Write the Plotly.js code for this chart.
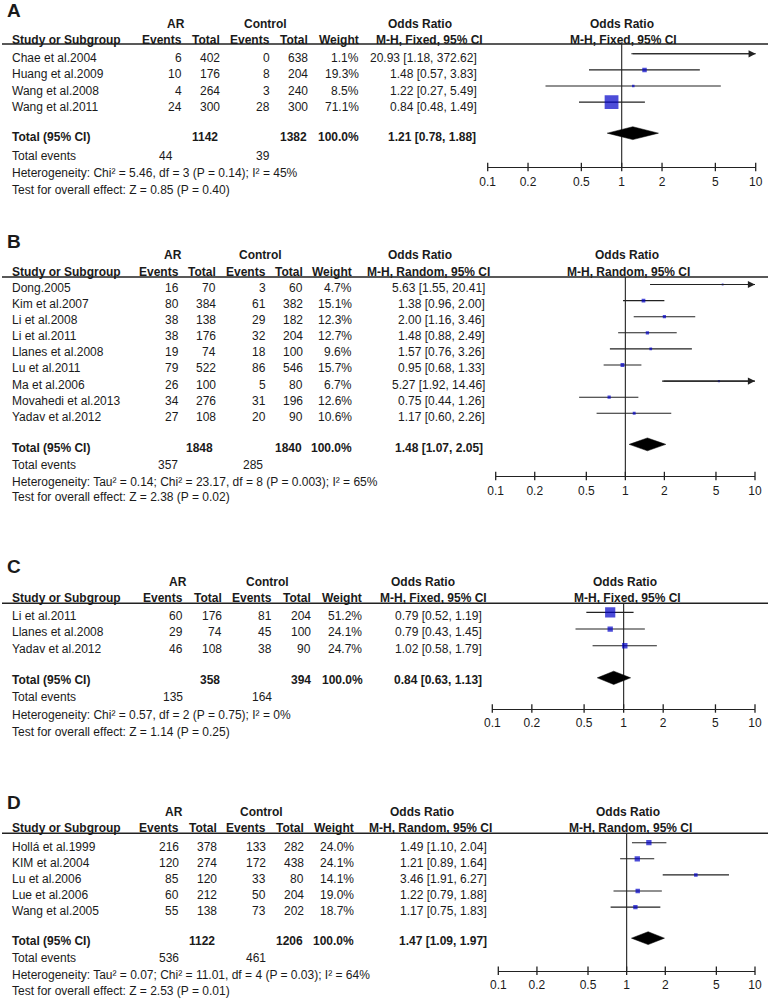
<!DOCTYPE html>
<html><head><meta charset="utf-8">
<script src="https://cdn.plot.ly/plotly-3.0.1.min.js"></script>
<style>html,body{margin:0;padding:0;background:#fff}</style>
</head><body><div id="chart" style="width:768px;height:999px"></div>
<script>
// ---------------- DATA ----------------
const tickVals = [0.1, 0.2, 0.5, 1, 2, 5, 10];
const tickText = ["0.1", "0.2", "0.5", "1", "2", "5", "10"];

// Panel A
const studiesA = ["Chae et al.2004", "Huang et al.2009", "Wang et al.2008", "Wang et al.2011"];
const arEventsA = [6, 10, 4, 24];
const arTotalA = [402, 176, 264, 300];
const ctrlEventsA = [0, 8, 3, 28];
const ctrlTotalA = [638, 204, 240, 300];
const weightA = [1.1, 19.3, 8.5, 71.1];
const orA = [20.93, 1.48, 1.22, 0.84];
const loA = [1.18, 0.57, 0.27, 0.48];
const hiA = [372.62, 3.83, 5.49, 1.49];
const totalsA = [1142, 1382];
const totalOrA = [1.21, 0.78, 1.88];
const totalEventsA = [44, 39];
const methodA = "M-H, Fixed, 95% CI";
const hetA = "Heterogeneity: Chi² = 5.46, df = 3 (P = 0.14); I² = 45%";
const testA = "Test for overall effect: Z = 0.85 (P = 0.40)";

// Panel B
const studiesB = ["Dong.2005", "Kim et al.2007", "Li et al.2008", "Li et al.2011", "Llanes et al.2008", "Lu et al.2011", "Ma et al.2006", "Movahedi et al.2013", "Yadav et al.2012"];
const arEventsB = [16, 80, 38, 38, 19, 79, 26, 34, 27];
const arTotalB = [70, 384, 138, 176, 74, 522, 100, 276, 108];
const ctrlEventsB = [3, 61, 29, 32, 18, 86, 5, 31, 20];
const ctrlTotalB = [60, 382, 182, 204, 100, 546, 80, 196, 90];
const weightB = [4.7, 15.1, 12.3, 12.7, 9.6, 15.7, 6.7, 12.6, 10.6];
const orB = [5.63, 1.38, 2.00, 1.48, 1.57, 0.95, 5.27, 0.75, 1.17];
const loB = [1.55, 0.96, 1.16, 0.88, 0.76, 0.68, 1.92, 0.44, 0.60];
const hiB = [20.41, 2.00, 3.46, 2.49, 3.26, 1.33, 14.46, 1.26, 2.26];
const totalsB = [1848, 1840];
const totalOrB = [1.48, 1.07, 2.05];
const totalEventsB = [357, 285];
const methodB = "M-H, Random, 95% CI";
const hetB = "Heterogeneity: Tau² = 0.14; Chi² = 23.17, df = 8 (P = 0.003); I² = 65%";
const testB = "Test for overall effect: Z = 2.38 (P = 0.02)";

// Panel C
const studiesC = ["Li et al.2011", "Llanes et al.2008", "Yadav et al.2012"];
const arEventsC = [60, 29, 46];
const arTotalC = [176, 74, 108];
const ctrlEventsC = [81, 45, 38];
const ctrlTotalC = [204, 100, 90];
const weightC = [51.2, 24.1, 24.7];
const orC = [0.79, 0.79, 1.02];
const loC = [0.52, 0.43, 0.58];
const hiC = [1.19, 1.45, 1.79];
const totalsC = [358, 394];
const totalOrC = [0.84, 0.63, 1.13];
const totalEventsC = [135, 164];
const methodC = "M-H, Fixed, 95% CI";
const hetC = "Heterogeneity: Chi² = 0.57, df = 2 (P = 0.75); I² = 0%";
const testC = "Test for overall effect: Z = 1.14 (P = 0.25)";

// Panel D
const studiesD = ["Hollá et al.1999", "KIM et al.2004", "Lu et al.2006", "Lue et al.2006", "Wang et al.2005"];
const arEventsD = [216, 120, 85, 60, 55];
const arTotalD = [378, 274, 120, 212, 138];
const ctrlEventsD = [133, 172, 33, 50, 73];
const ctrlTotalD = [282, 438, 80, 204, 202];
const weightD = [24.0, 24.1, 14.1, 19.0, 18.7];
const orD = [1.49, 1.21, 3.46, 1.22, 1.17];
const loD = [1.10, 0.89, 1.91, 0.79, 0.75];
const hiD = [2.04, 1.64, 6.27, 1.88, 1.83];
const totalsD = [1122, 1206];
const totalOrD = [1.47, 1.09, 1.97];
const totalEventsD = [536, 461];
const methodD = "M-H, Random, 95% CI";
const hetD = "Heterogeneity: Tau² = 0.07; Chi² = 11.01, df = 4 (P = 0.03); I² = 64%";
const testD = "Test for overall effect: Z = 2.53 (P = 0.01)";

// ---------------- LAYOUT GEOMETRY (pixels) ----------------
const W = 768, H = 999;
const FONT = "Liberation Sans, Arial, Helvetica, sans-serif";
const TXT = "#1a1a1a";
const LINE = "#222222";
const BLUE = "#0000c8";

const geoA = {letterY: 11, h1: 24, h2: 40, line: 44, textFirst: 58.3, step: 16.1, markOff: -4.5,
  totText: 136.7, totEvY: 155.7, hetY: 172.7, testY: 190,
  c: {name: 12, arEv: 181.5, arTot: 220, ctEv: 270.3, ctTot: 308.3, wt: 359.3, orTxt: 477.3},
  t: {arTot: 218.3, ctTot: 306.7, wt: 358.5, orTxt: 476, evAR: 173.3, evCt: 270},
  hd: {ar: 176, ct: 265, or1: 419.5, mhRight: 482.7, p1: 622, p2: 623.5},
  p: {x0: 487.7, x1: 755.7, axis: 167}};
const geoB = {letterY: 242, h1: 255, h2: 272, line: 277, textFirst: 288, step: 16.1, markOff: -3.5,
  totText: 448, totEvY: 465, hetY: 482, testY: 497,
  c: {name: 12, arEv: 178.5, arTot: 216, ctEv: 265.5, ctTot: 303, wt: 352, orTxt: 485},
  t: {arTot: 213, ctTot: 302, wt: 352, orTxt: 483, evAR: 178, evCt: 263},
  hd: {ar: 173, ct: 260, or1: 420, mhRight: 490, p1: 627, p2: 628},
  p: {x0: 495.7, x1: 755, axis: 476}};
const geoC = {letterY: 566, h1: 581.7, h2: 597.7, line: 603.3, textFirst: 615.7, step: 16.65, markOff: -3.3,
  totText: 680, totEvY: 697, hetY: 715, testY: 731.7,
  c: {name: 12, arEv: 183, arTot: 221.7, ctEv: 272, ctTot: 311, wt: 362, orTxt: 482.3},
  t: {arTot: 220, ctTot: 310.7, wt: 362.7, orTxt: 481.5, evAR: 182.7, evCt: 271.7},
  hd: {ar: 177.5, ct: 267.5, or1: 423, mhRight: 487, p1: 625, p2: 627.5},
  p: {x0: 492.3, x1: 755, axis: 708.5}};
const geoD = {letterY: 802, h1: 812.3, h2: 828.3, line: 833.3, textFirst: 846.7, step: 16.1, markOff: -4,
  totText: 940.7, totEvY: 958.3, hetY: 975, testY: 990.7,
  c: {name: 12, arEv: 179.3, arTot: 217, ctEv: 266.3, ctTot: 304.2, wt: 354, orTxt: 487.3},
  t: {arTot: 215, ctTot: 303.3, wt: 354, orTxt: 486.7, evAR: 179, evCt: 265.7},
  hd: {ar: 174, ct: 261.3, or1: 422, mhRight: 491.7, p1: 628.3, p2: 630},
  p: {x0: 498.3, x1: 755, axis: 970.7}};

const panels = [
  {letter: "A", studies: studiesA, arEv: arEventsA, arTot: arTotalA, ctEv: ctrlEventsA, ctTot: ctrlTotalA, wt: weightA, or: orA, lo: loA, hi: hiA, totals: totalsA, totOR: totalOrA, totEv: totalEventsA, method: methodA, het: hetA, test: testA, g: geoA},
  {letter: "B", studies: studiesB, arEv: arEventsB, arTot: arTotalB, ctEv: ctrlEventsB, ctTot: ctrlTotalB, wt: weightB, or: orB, lo: loB, hi: hiB, totals: totalsB, totOR: totalOrB, totEv: totalEventsB, method: methodB, het: hetB, test: testB, g: geoB},
  {letter: "C", studies: studiesC, arEv: arEventsC, arTot: arTotalC, ctEv: ctrlEventsC, ctTot: ctrlTotalC, wt: weightC, or: orC, lo: loC, hi: hiC, totals: totalsC, totOR: totalOrC, totEv: totalEventsC, method: methodC, het: hetC, test: testC, g: geoC},
  {letter: "D", studies: studiesD, arEv: arEventsD, arTot: arTotalD, ctEv: ctrlEventsD, ctTot: ctrlTotalD, wt: weightD, or: orD, lo: loD, hi: hiD, totals: totalsD, totOR: totalOrD, totEv: totalEventsD, method: methodD, het: hetD, test: testD, g: geoD}
];

const traces = [];
const annotations = [];
const shapes = [];
const layout = {
  width: W, height: H, margin: {l: 0, r: 0, t: 0, b: 0},
  paper_bgcolor: "#fff", plot_bgcolor: "rgba(0,0,0,0)",
  showlegend: false, font: {family: FONT, size: 12, color: TXT},
  annotations: annotations, shapes: shapes
};

function px2x(x) { return x / W; }
function px2y(y) { return 1 - y / H; }
function ann(x, y, text, xanchor, opts) {
  opts = opts || {};
  annotations.push({
    xref: "paper", yref: "paper", x: px2x(x), y: px2y(y), text: text,
    xanchor: xanchor, yanchor: "middle", showarrow: false,
    borderpad: 0, borderwidth: 0,
    font: {family: FONT, size: opts.size || 12, color: TXT}
  });
}
const f2 = v => v.toFixed(2);
const orStr = (o, l, h) => f2(o) + " [" + f2(l) + ", " + f2(h) + "]";

panels.forEach((P, k) => {
  const g = P.g;
  const sfx = k === 0 ? "" : String(k + 1);
  const xa = "x" + sfx, ya = "y" + sfx;
  const n = P.studies.length;
  const markFirst = g.textFirst + g.markOff;
  const r0 = (g.p.axis - markFirst) / g.step;
  const r1 = (g.line - markFirst) / g.step;

  layout["xaxis" + sfx] = {
    type: "log", range: [-1, 1], domain: [px2x(g.p.x0), px2x(g.p.x1)], anchor: ya,
    showline: true, linecolor: LINE, linewidth: 1.2, mirror: false,
    ticks: "", tickmode: "array", tickvals: tickVals, ticktext: tickText,
    showgrid: false, zeroline: false, ticklabelstandoff: 3,
    tickfont: {family: FONT, size: 12, color: TXT}, fixedrange: true
  };
  layout["yaxis" + sfx] = {
    domain: [px2y(g.p.axis), px2y(g.line)], range: [r0, r1], visible: false,
    anchor: xa, fixedrange: true, showgrid: false, zeroline: false
  };

  const idx = P.studies.map((_, i) => i);

  // line of no effect
  traces.push({type: "scatter", mode: "lines", x: [1, 1], y: [r0, r1], xaxis: xa, yaxis: ya,
    line: {color: LINE, width: 1.1}, hoverinfo: "skip", cliponaxis: false});

  // tick marks crossing the axis line
  traces.push({type: "scatter", mode: "markers", x: tickVals, y: tickVals.map(() => r0),
    xaxis: xa, yaxis: ya, cliponaxis: false, hoverinfo: "skip",
    marker: {symbol: "line-ns", size: 6, color: LINE, line: {color: LINE, width: 1.3}}});

  // confidence interval lines
  const cx = [], cy = [];
  idx.forEach(i => { cx.push(P.lo[i], P.hi[i], null); cy.push(i, i, null); });
  traces.push({type: "scatter", mode: "lines", x: cx, y: cy, xaxis: xa, yaxis: ya,
    line: {color: LINE, width: 1.1}, hoverinfo: "skip"});

  // arrows for intervals beyond the axis
  idx.forEach(i => {
    if (P.hi[i] > 10) {
      annotations.push({xref: xa, yref: ya, axref: xa, ayref: ya,
        x: 1, y: i, ax: Math.log10(P.lo[i]), ay: i, text: "", showarrow: true,
        arrowhead: 2, arrowsize: 1.3, arrowwidth: 1.1, arrowcolor: LINE, standoff: 0});
    }
  });

  // study squares
  traces.push({type: "scatter", mode: "markers", x: P.or, y: idx, xaxis: xa, yaxis: ya,
    marker: {symbol: "square", color: BLUE, size: P.wt.map(w => 1 + 0.18 * w), line: {width: 0}},
    hoverinfo: "skip"});

  // pooled diamond
  const ty = n + 0.93, hh = 0.4;
  traces.push({type: "scatter", mode: "lines", fill: "toself", fillcolor: "#000",
    x: [P.totOR[1], P.totOR[0], P.totOR[2], P.totOR[0], P.totOR[1]],
    y: [ty, ty - hh, ty, ty + hh, ty], xaxis: xa, yaxis: ya,
    line: {color: "#000", width: 0.5}, hoverinfo: "skip"});

  // header line
  shapes.push({type: "line", xref: "paper", yref: "paper", x0: px2x(2), x1: px2x(768),
    y0: px2y(g.line), y1: px2y(g.line), line: {color: LINE, width: 1.4}});

  // panel letter
  ann(7, g.letterY, "<b>" + P.letter + "</b>", "left", {size: 19});

  // headers
  ann(g.hd.ar, g.h1, "<b>AR</b>", "center");
  ann(g.hd.ct, g.h1, "<b>Control</b>", "center");
  ann(g.hd.or1, g.h1, "<b>Odds Ratio</b>", "center");
  ann(g.hd.p1, g.h1, "<b>Odds Ratio</b>", "center");
  ann(g.c.name, g.h2, "<b>Study or Subgroup</b>", "left");
  ann(g.c.arEv, g.h2, "<b>Events</b>", "right");
  ann(g.c.arTot, g.h2, "<b>Total</b>", "right");
  ann(g.c.ctEv, g.h2, "<b>Events</b>", "right");
  ann(g.c.ctTot, g.h2, "<b>Total</b>", "right");
  ann(g.c.wt, g.h2, "<b>Weight</b>", "right");
  ann(g.hd.mhRight, g.h2, "<b>" + P.method + "</b>", "right");
  ann(g.hd.p2, g.h2, "<b>" + P.method + "</b>", "center");

  // study rows
  idx.forEach(i => {
    const y = g.textFirst + i * g.step;
    ann(g.c.name, y, P.studies[i], "left");
    ann(g.c.arEv, y, String(P.arEv[i]), "right");
    ann(g.c.arTot, y, String(P.arTot[i]), "right");
    ann(g.c.ctEv, y, String(P.ctEv[i]), "right");
    ann(g.c.ctTot, y, String(P.ctTot[i]), "right");
    ann(g.c.wt, y, P.wt[i].toFixed(1) + "%", "right");
    ann(g.c.orTxt, y, orStr(P.or[i], P.lo[i], P.hi[i]), "right");
  });

  // total row
  ann(g.c.name, g.totText, "<b>Total (95% CI)</b>", "left");
  ann(g.t.arTot, g.totText, "<b>" + P.totals[0] + "</b>", "right");
  ann(g.t.ctTot, g.totText, "<b>" + P.totals[1] + "</b>", "right");
  ann(g.t.wt, g.totText, "<b>100.0%</b>", "right");
  ann(g.t.orTxt, g.totText, "<b>" + orStr(P.totOR[0], P.totOR[1], P.totOR[2]) + "</b>", "right");

  ann(g.c.name, g.totEvY, "Total events", "left");
  ann(g.t.evAR, g.totEvY, String(P.totEv[0]), "right");
  ann(g.t.evCt, g.totEvY, String(P.totEv[1]), "right");
  ann(g.c.name, g.hetY, P.het, "left");
  ann(g.c.name, g.testY, P.test, "left");
});

Plotly.newPlot("chart", traces, layout, {displayModeBar: false, staticPlot: true});
</script>
</body></html>
